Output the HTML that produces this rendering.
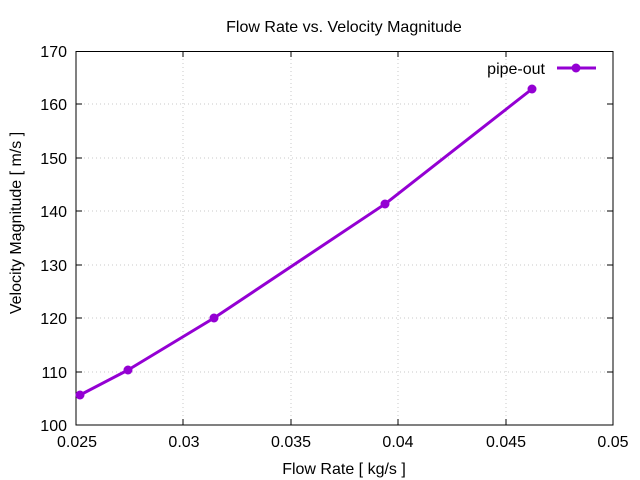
<!DOCTYPE html>
<html><head><meta charset="utf-8"><style>body{margin:0;background:#fff}svg{display:block}text{font-family:"Liberation Sans",sans-serif;font-size:16px;fill:#000}</style></head>
<body>
<svg width="640" height="480" xmlns="http://www.w3.org/2000/svg">
<rect width="640" height="480" fill="#fff"/>
<g stroke="#c8c8c8" stroke-width="1" stroke-dasharray="1,3">
<line x1="183" y1="51" x2="183" y2="425"/><line x1="291" y1="51" x2="291" y2="425"/><line x1="398" y1="51" x2="398" y2="425"/><line x1="506" y1="51" x2="506" y2="425"/>
<line x1="76" y1="372" x2="613" y2="372"/><line x1="76" y1="318" x2="613" y2="318"/><line x1="76" y1="265" x2="613" y2="265"/><line x1="76" y1="211" x2="613" y2="211"/><line x1="76" y1="158" x2="613" y2="158"/><line x1="76" y1="104" x2="470" y2="104"/>
</g>
<rect x="76" y="51.5" width="537" height="373.5" fill="none" stroke="#000" stroke-width="1"/>
<g stroke="#000">
<line x1="76" y1="372" x2="82" y2="372"/><line x1="76" y1="318" x2="82" y2="318"/><line x1="76" y1="265" x2="82" y2="265"/><line x1="76" y1="211" x2="82" y2="211"/><line x1="76" y1="158" x2="82" y2="158"/><line x1="76" y1="104" x2="82" y2="104"/>
<line x1="613" y1="372" x2="607" y2="372"/><line x1="613" y1="318" x2="607" y2="318"/><line x1="613" y1="265" x2="607" y2="265"/><line x1="613" y1="211" x2="607" y2="211"/><line x1="613" y1="158" x2="607" y2="158"/><line x1="613" y1="104" x2="607" y2="104"/>
<line x1="183" y1="425" x2="183" y2="419"/><line x1="291" y1="425" x2="291" y2="419"/><line x1="398" y1="425" x2="398" y2="419"/><line x1="506" y1="425" x2="506" y2="419"/>
<line x1="183" y1="51" x2="183" y2="57"/><line x1="291" y1="51" x2="291" y2="57"/><line x1="398" y1="51" x2="398" y2="57"/><line x1="506" y1="51" x2="506" y2="57"/>
</g>
<g text-anchor="end">
<text x="67" y="431">100</text><text x="67" y="378">110</text><text x="67" y="324">120</text><text x="67" y="271">130</text><text x="67" y="217">140</text><text x="67" y="164">150</text><text x="67" y="110">160</text><text x="67" y="57">170</text>
</g>
<g text-anchor="middle">
<text x="77" y="447">0.025</text><text x="184" y="447">0.03</text><text x="291" y="447">0.035</text><text x="398" y="447">0.04</text><text x="506" y="447">0.045</text><text x="613" y="447">0.05</text>
<text x="344" y="474">Flow Rate [ kg/s ]</text>
<text x="344" y="32">Flow Rate vs. Velocity Magnitude</text>
<text transform="translate(21,223) rotate(-90)">Velocity Magnitude [ m/s ]</text>
</g>
<text x="545" y="74" text-anchor="end">pipe-out</text>
<g stroke="#9400d3" stroke-width="3" fill="#9400d3">
<line x1="557" y1="68" x2="596" y2="68"/>
<polyline fill="none" points="80,395 128,370 214,318 385,204 532,89"/>
<g stroke="none"><circle cx="576" cy="68" r="4.5"/><circle cx="80" cy="395" r="4.5"/><circle cx="128" cy="370" r="4.5"/><circle cx="214" cy="318" r="4.5"/><circle cx="385" cy="204" r="4.5"/><circle cx="532" cy="89" r="4.5"/></g>
</g>
</svg>
</body></html>
